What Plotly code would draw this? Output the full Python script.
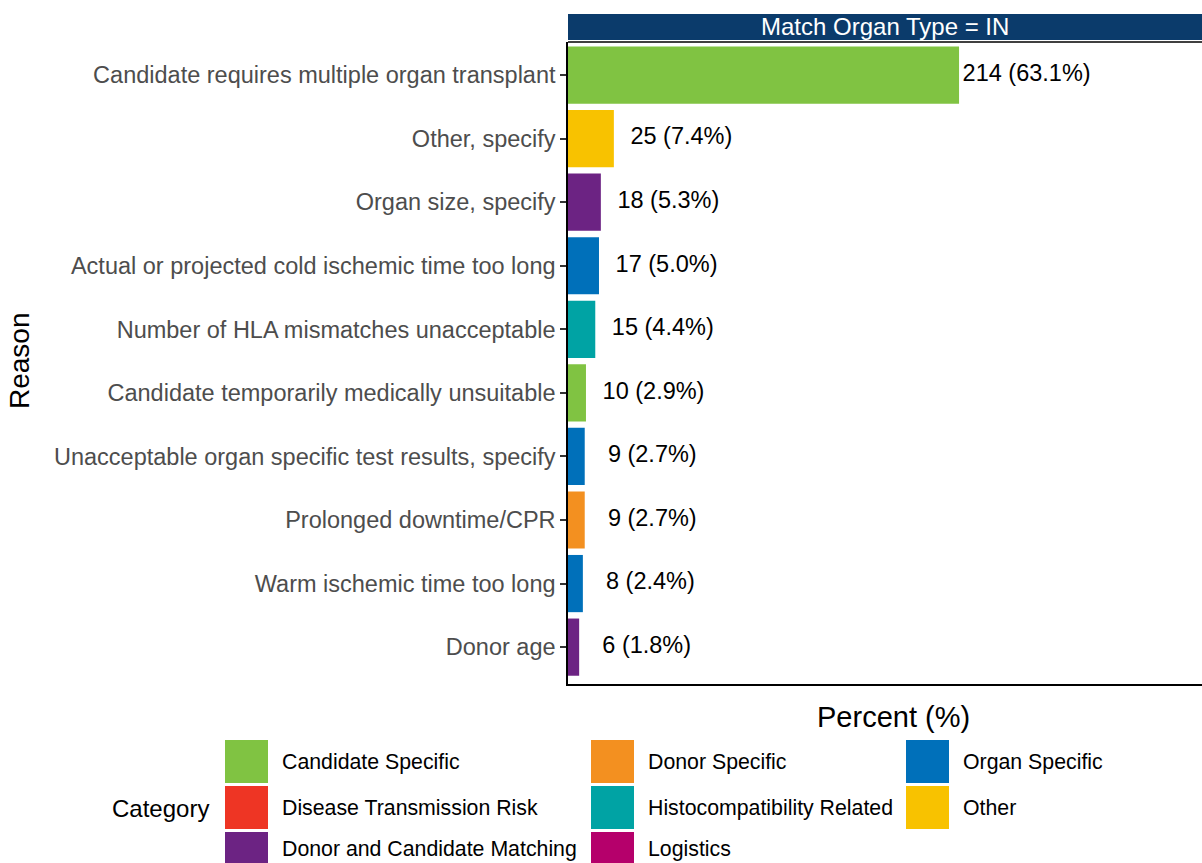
import plotly.graph_objects as go

# ---------------- data ----------------
reasons = [
    "Candidate requires multiple organ transplant",
    "Other, specify",
    "Organ size, specify",
    "Actual or projected cold ischemic time too long",
    "Number of HLA mismatches unacceptable",
    "Candidate temporarily medically unsuitable",
    "Unacceptable organ specific test results, specify",
    "Prolonged downtime/CPR",
    "Warm ischemic time too long",
    "Donor age",
]
counts = [214, 25, 18, 17, 15, 10, 9, 9, 8, 6]
percents = [63.1, 7.4, 5.3, 5.0, 4.4, 2.9, 2.7, 2.7, 2.4, 1.8]
bar_categories = [
    "Candidate Specific",
    "Other",
    "Donor and Candidate Matching",
    "Organ Specific",
    "Histocompatibility Related",
    "Candidate Specific",
    "Organ Specific",
    "Donor Specific",
    "Organ Specific",
    "Donor and Candidate Matching",
]
legend_categories = [
    "Candidate Specific",
    "Disease Transmission Risk",
    "Donor and Candidate Matching",
    "Donor Specific",
    "Histocompatibility Related",
    "Logistics",
    "Organ Specific",
    "Other",
]
category_colors = {
    "Candidate Specific": "#80C342",
    "Disease Transmission Risk": "#EE3524",
    "Donor and Candidate Matching": "#6C2383",
    "Donor Specific": "#F39020",
    "Histocompatibility Related": "#00A3A4",
    "Logistics": "#B5006B",
    "Organ Specific": "#0070BA",
    "Other": "#F8C200",
}
panel_title = "Match Organ Type = IN"

# ---------------- geometry helpers ----------------
W, H = 1202, 863
PL, PR, PT, PB = 568, 1202, 42, 684   # plot panel in page pixels
L, T = PL, PT
R, B = W - PR, H - PB
PW, PH = PR - PL, PB - PT
FONT = "Liberation Sans, Arial, sans-serif"


def px_x(x):
    return (x - PL) / PW


def px_y(y):
    return (PB - y) / PH


labels = [f"{c} ({p:.1f}%)" for c, p in zip(counts, percents)]
label_nudge = 10.9
label_x = [p + label_nudge for p in percents]

fig = go.Figure()
fig.add_trace(go.Bar(
    x=percents, y=reasons, orientation="h", width=0.9,
    marker=dict(color=[category_colors[c] for c in bar_categories], line=dict(width=0)),
    showlegend=False, hoverinfo="x+y",
))
fig.add_trace(go.Scatter(
    x=label_x, y=reasons, mode="text", text=labels,
    textposition="middle center",
    textfont=dict(family=FONT, size=23.5, color="black"),
    showlegend=False, hoverinfo="skip", cliponaxis=False,
))

shapes = []
annotations = []

# strip
shapes.append(dict(type="rect", xref="paper", yref="paper",
                   x0=0, x1=1, y0=px_y(40), y1=px_y(14),
                   fillcolor="#0B3B6B", line=dict(width=0), layer="above"))
annotations.append(dict(text=panel_title, xref="paper", yref="paper",
                        x=0.5, y=px_y(27), xanchor="center", yanchor="middle",
                        showarrow=False, font=dict(family=FONT, size=24, color="white")))
# top border of panel
shapes.append(dict(type="line", xref="paper", yref="paper", x0=0, x1=1, y0=1, y1=1,
                   line=dict(color="black", width=1.5)))

# axis titles
annotations.append(dict(text="Percent (%)", xref="paper", yref="paper",
                        x=px_x(893), y=px_y(717), xanchor="center", yanchor="middle",
                        showarrow=False, font=dict(family=FONT, size=29, color="black")))
annotations.append(dict(text="Reason", xref="paper", yref="paper",
                        x=px_x(19), y=px_y(361), xanchor="center", yanchor="middle",
                        textangle=-90, showarrow=False,
                        font=dict(family=FONT, size=28, color="black")))

# legend
annotations.append(dict(text="Category", xref="paper", yref="paper",
                        x=px_x(211), y=px_y(808), xanchor="right", yanchor="middle",
                        showarrow=False, font=dict(family=FONT, size=24, color="black")))
col_x = [225, 591, 906]
row_top = [740, 786, 832]
sw = 43
for i, cat in enumerate(legend_categories):
    c, r = divmod(i, 3)
    x0, y0 = col_x[c], row_top[r]
    shapes.append(dict(type="rect", xref="paper", yref="paper",
                       x0=px_x(x0), x1=px_x(x0 + sw), y0=px_y(y0 + sw), y1=px_y(y0),
                       fillcolor=category_colors[cat], line=dict(width=0)))
    text_y = min(y0 + sw / 2, H - 14)
    annotations.append(dict(text=cat, xref="paper", yref="paper",
                            x=px_x(x0 + sw + 12), y=px_y(text_y),
                            xanchor="left", yanchor="middle", showarrow=False,
                            font=dict(family=FONT, size=21.3, color="black")))

fig.update_layout(
    width=W, height=H,
    margin=dict(l=L, r=R, t=T, b=B, pad=0),
    plot_bgcolor="white", paper_bgcolor="white",
    bargap=0.1,
    font=dict(family=FONT),
    shapes=shapes, annotations=annotations,
    xaxis=dict(range=[0, 102.3], showgrid=False, zeroline=False,
               showticklabels=False, ticks="", showline=True,
               linecolor="black", linewidth=1.5, fixedrange=True),
    yaxis=dict(type="category", categoryorder="array", categoryarray=reasons,
               range=[9.58, -0.52], showgrid=False, zeroline=False,
               showline=True, linecolor="black", linewidth=1.5,
               ticks="outside", ticklen=6, tickwidth=1.5, tickcolor="#333333",
               tickfont=dict(family=FONT, size=23.5, color="#4D4D4D"),
               ticklabelstandoff=0, fixedrange=True),
)

fig.write_html(
    "out.html",
    config={"displayModeBar": False},
    post_script="document.body.style.margin='0';document.body.style.overflow='hidden';",
)
